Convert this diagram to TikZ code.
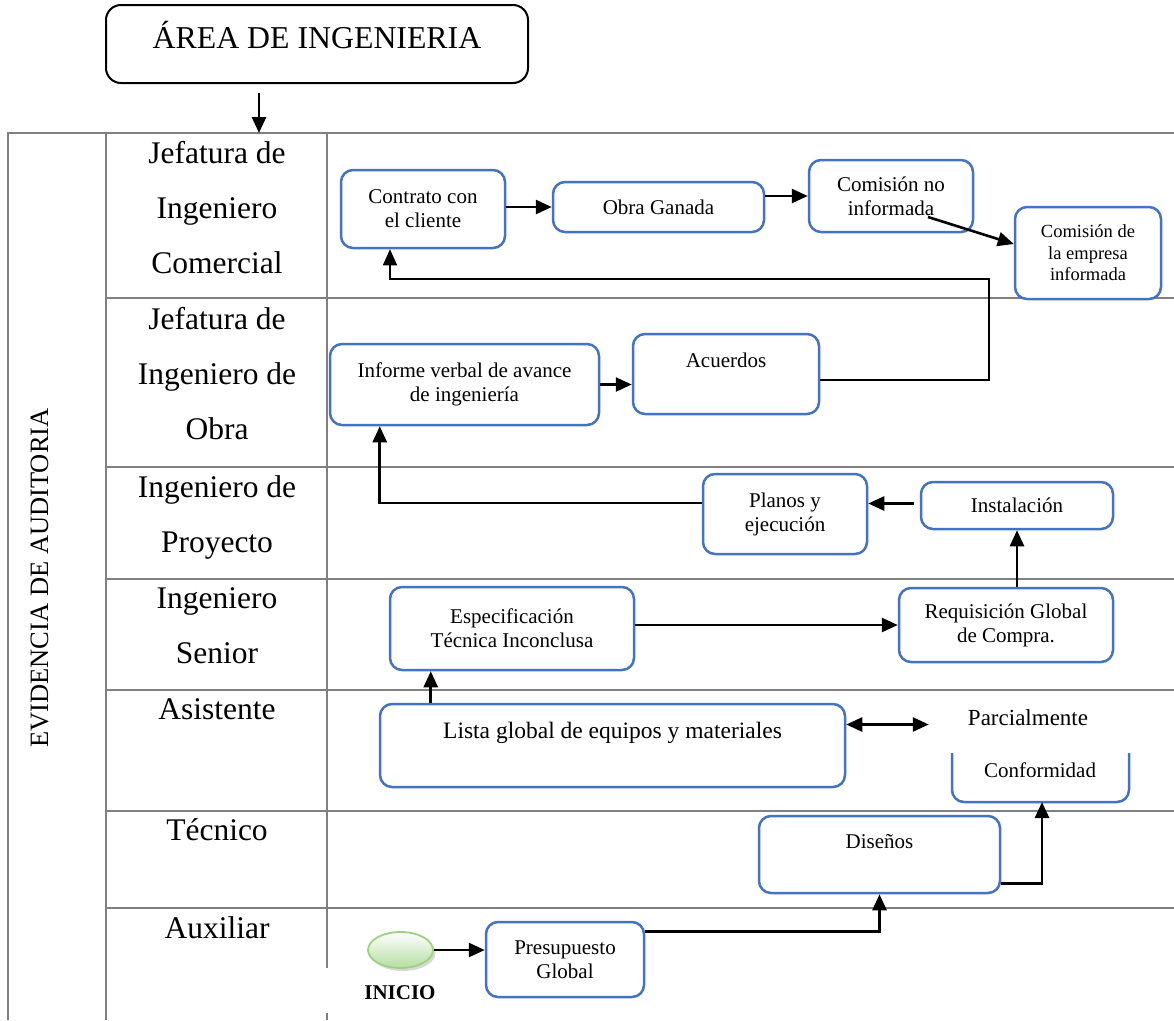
\documentclass[tikz,border=0pt]{standalone}
\usepackage{fontspec}
\setmainfont{Liberation Serif}
\usetikzlibrary{arrows.meta,calc,shadows,shapes.geometric}
\definecolor{boxblue}{HTML}{4472C4}
\definecolor{tabgray}{HTML}{808080}
\definecolor{inigreen}{HTML}{9DD282}
\tikzset{
  tabline/.style={draw=tabgray,line width=2pt},
  lab/.style={anchor=base,inner sep=0pt,font=\fontsize{31.5}{38}\selectfont},
  bbox/.style={draw=boxblue,line width=2.5pt,rounded corners=12pt,fill=white,
    inner sep=0pt,align=center,font=\fontsize{21}{24}\selectfont},
  arr/.style={draw=black,line width=2.6pt,-{Triangle[length=16pt,width=14pt]}},
  darr/.style={draw=black,line width=2.6pt,{Triangle[length=16pt,width=14pt]}-{Triangle[length=16pt,width=14pt]}},
  fbarr/.style={draw=black,line width=1.8pt,-{Triangle[length=16pt,width=14pt]}}
}
\begin{document}
\begin{tikzpicture}[x=1pt,y=-1pt]
\useasboundingbox (0,0) rectangle (1174,1020);
\fill[white] (0,0) rectangle (1174,1020);

% title
\node[draw=black,line width=2pt,rounded corners=15pt,minimum width=422pt,minimum height=78pt,
  inner sep=0pt,text height=24pt,text depth=16pt,font=\fontsize{31.8}{38}\selectfont]
  (title) at (317,44) {ÁREA DE INGENIERIA};

% table
\coordinate (tl) at (8,133);
\draw[tabline] (8,1020) -- (tl) -- (1174,133);
\draw[tabline] (106,133) -- (106,1020);
\draw[tabline] (327,133) -- (327,968);
\draw[tabline] (327,1013) -- (327,1020);
\foreach \yy in {298,467,579,690,811,908}{
  \draw[tabline] (106,\yy) -- (1174,\yy);
}

\coordinate (ta) at ($(title.south)+(-58,9)$);
\draw[arr] (ta) -- (ta |- tl);

% vertical label
\node[rotate=90,inner sep=0pt,font=\fontsize{26.5}{30}\selectfont] (evid) at (39.5,578) {EVIDENCIA DE AUDITORIA};

% row labels
\node[lab] (r1a) at (217,163) {Jefatura de};
\node[lab] (r1b) at (217,218) {Ingeniero};
\node[lab] (r1c) at (217,273) {Comercial};
\node[lab] (r2a) at (217,329) {Jefatura de};
\node[lab] (r2b) at (217,384) {Ingeniero de};
\node[lab] (r2c) at (217,439) {Obra};
\node[lab] (r3a) at (217,497) {Ingeniero de};
\node[lab] (r3b) at (217,552) {Proyecto};
\node[lab] (r4a) at (217,608) {Ingeniero};
\node[lab] (r4b) at (217,663) {Senior};
\node[lab] (r5a) at (217,719) {Asistente};
\node[lab] (r6a) at (217,840) {Técnico};
\node[lab] (r7a) at (217,938) {Auxiliar};

% boxes
\node[bbox,minimum width=164pt,minimum height=78pt] (con) at (423,209) {Contrato con\\el cliente};
\node[bbox,minimum width=211pt,minimum height=50pt] (obra) at (658.5,207) {Obra Ganada};
\node[bbox,minimum width=164pt,minimum height=72pt] (com1) at (891,196) {Comisión no\\informada};
\node[bbox,minimum width=146pt,minimum height=92pt,font=\fontsize{18.5}{21.5}\selectfont] (com2) at (1088,253) {Comisión de\\la empresa\\informada};
\node[bbox,minimum width=269pt,minimum height=81pt] (inf) at (464.5,384.5) {Informe verbal de avance\\de ingeniería};
\node[bbox,minimum width=186pt,minimum height=80pt,text height=15pt,text depth=29pt] (acu) at (726,374) {Acuerdos};
\node[bbox,minimum width=164pt,minimum height=80pt] (plan) at (785,514) {Planos y\\ejecución};
\node[bbox,minimum width=192pt,minimum height=47pt] (inst) at (1017,505.5) {Instalación};
\node[bbox,minimum width=214pt,minimum height=74pt] (req) at (1006,625) {Requisición Global\\de Compra.};
\node[bbox,minimum width=244pt,minimum height=83pt] (esp) at (512,628.5) {Especificación\\Técnica Inconclusa};
\node[bbox,minimum width=465pt,minimum height=83pt,text height=16pt,text depth=31pt,font=\fontsize{23.5}{28}\selectfont] (lista) at (612.5,745.5) {Lista global de equipos y materiales};
\node[bbox,minimum width=241pt,minimum height=77pt,text height=15pt,text depth=28pt] (dis) at (879.5,854.5) {Diseños};
\node[bbox,minimum width=158pt,minimum height=75pt] (pres) at (565,959.5) {Presupuesto\\Global};

% Parcialmente / Conformidad
\node[anchor=base,inner sep=0pt,font=\fontsize{23}{28}\selectfont] (parc) at (1028,725) {Parcialmente};
\draw[draw=boxblue,line width=2.5pt,rounded corners=12pt] (952,753) -- (952,802) -- (1129,802) -- (1129,753);
\node[anchor=base,inner sep=0pt,font=\fontsize{21}{24}\selectfont] (conf) at (1040,777) {Conformidad};
\coordinate (confb) at (1042,802);

% INICIO
\node[ellipse,draw=inigreen,line width=1.8pt,top color=white,bottom color=inigreen!75,
  minimum width=65pt,minimum height=36pt,inner sep=0pt,
  drop shadow={shadow xshift=2.5pt,shadow yshift=-3pt,fill=gray!60}] (ini) at (400.5,950) {};
\node[anchor=base,inner sep=0pt,font=\bfseries\fontsize{21}{24}\selectfont] (initxt) at (400,999) {INICIO};

% connectors
\draw[arr] (con.east |- obra.west) -- (obra.west);
\draw[arr] (obra.east |- com1.west) -- (com1.west);
\coordinate (c1s) at ($(com1.center)+(37,21)$);
\coordinate (c2e) at ($(com2.west)+(0,-9)$);
\draw[arr] (c1s) -- (c2e);

\coordinate (fb0) at ($(acu.east)+(0,6)$);
\coordinate (fb1) at (989,279);
\coordinate (fb2) at ($(con.south)+(-33,0)$);
\draw[fbarr] (fb0) -| (fb1) -| (fb2);

\draw[arr] (inf.east) -- (inf.east -| acu.west);

\coordinate (pw) at ($(plan.west)+(0,-11)$);
\coordinate (pb) at ($(inf.south west)+(51,0)$);
\draw[arr] (pw) -| (pb);

\coordinate (iw) at ($(inst.west)+(-6,-2)$);
\draw[arr] (iw) -- (iw -| plan.east);
\draw[arr] (req.north -| inst.south) -- (inst.south);
\draw[arr] (req.west -| esp.east) -- (req.west);

\coordinate (ea) at ($(esp.south west)+(42,0)$);
\draw[arr] (ea |- lista.north) -- (ea);

\coordinate (ls) at ($(lista.east)+(0,-21)$);
\coordinate (dtip) at ($(parc.west)+(-39,-1)$);
\draw[darr] (ls) -- (ls -| dtip);

\coordinate (ds) at ($(dis.south east)+(0,-11)$);
\draw[arr] (ds) -| (confb);

\coordinate (ps) at ($(pres.north east)+(0,11)$);
\draw[arr] (ps) -| (dis.south);

\draw[arr] (ini.east) -- (ini.east -| pres.west);
\end{tikzpicture}
\end{document}
